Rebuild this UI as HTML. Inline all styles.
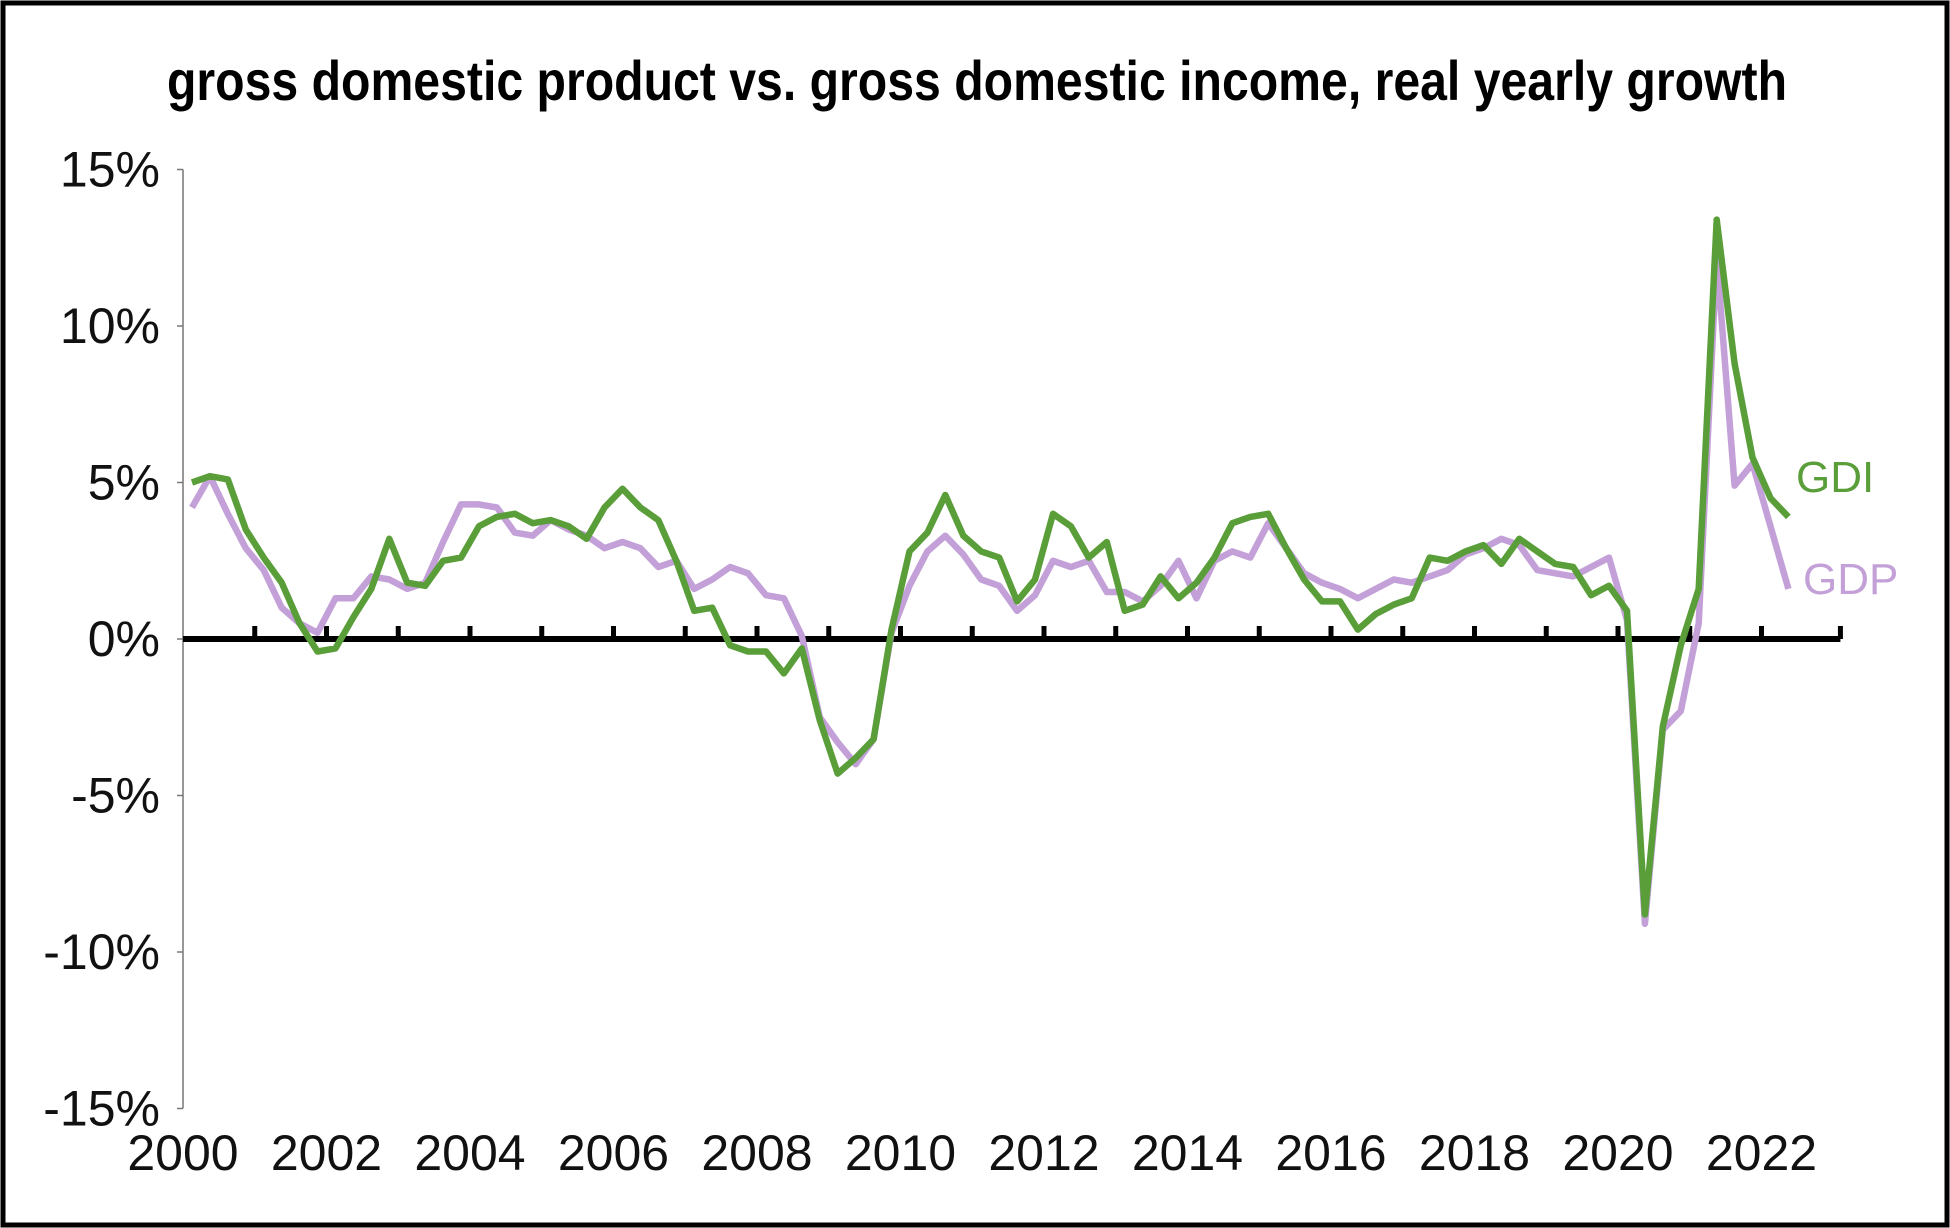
<!DOCTYPE html>
<html><head><meta charset="utf-8"><style>
html,body{margin:0;padding:0;background:#fff;}
svg{display:block;}
</style></head><body>
<svg id="chart" width="1950" height="1228" viewBox="0 0 1950 1228">
<rect x="3" y="3" width="1944" height="1222" fill="#fff" stroke="#000" stroke-width="5"/>
<text x="977" y="100" text-anchor="middle" font-family="'Liberation Sans Narrow','Liberation Sans',sans-serif" font-weight="bold" font-size="56" textLength="1620" lengthAdjust="spacingAndGlyphs" fill="#000">gross domestic product vs. gross domestic income, real yearly growth</text>
<g id="axes"></g>
<g id="series"></g>
</svg>
<script>
const years = [2000,2002,2004,2006,2008,2010,2012,2014,2016,2018,2020,2022];
const yTicks = [15,10,5,0,-5,-10,-15];
const yTickLabels = ["15%","10%","5%","0%","-5%","-10%","-15%"];
const startYear = 2000.125;
const gdi = [
5.0,5.2,5.1,3.5, 2.6,1.8,0.5,-0.4, -0.3,0.7,1.6,3.2, 1.8,1.7,2.5,2.6,
3.6,3.9,4.0,3.7, 3.8,3.6,3.2,4.2, 4.8,4.2,3.8,2.5, 0.9,1.0,-0.2,-0.4,
-0.4,-1.1,-0.3,-2.6, -4.3,-3.8,-3.2,0.3, 2.8,3.4,4.6,3.3, 2.8,2.6,1.2,1.9,
4.0,3.6,2.6,3.1, 0.9,1.1,2.0,1.3, 1.8,2.6,3.7,3.9, 4.0,2.9,1.9,1.2,
1.2,0.3,0.8,1.1, 1.3,2.6,2.5,2.8, 3.0,2.4,3.2,2.8, 2.4,2.3,1.4,1.7,
0.9,-8.8,-2.8,-0.2, 1.6,13.4,8.8,5.8, 4.5,3.9];
const gdp = [
4.2,5.2,4.0,2.9, 2.2,1.0,0.5,0.2, 1.3,1.3,2.0,1.9, 1.6,1.8,3.1,4.3,
4.3,4.2,3.4,3.3, 3.8,3.5,3.3,2.9, 3.1,2.9,2.3,2.5, 1.6,1.9,2.3,2.1,
1.4,1.3,0.1,-2.5, -3.3,-4.0,-3.2,0.2, 1.7,2.8,3.3,2.7, 1.9,1.7,0.9,1.4,
2.5,2.3,2.5,1.5, 1.5,1.2,1.7,2.5, 1.3,2.5,2.8,2.6, 3.7,2.9,2.1,1.8,
1.6,1.3,1.6,1.9, 1.8,2.0,2.2,2.7, 2.9,3.2,3.0,2.2, 2.1,2.0,2.3,2.6,
0.6,-9.1,-2.9,-2.3, 0.5,12.2,4.9,5.6, 3.6,1.6];

const NS='http://www.w3.org/2000/svg';
const xS = yr => 183 + (yr-2000)*71.75;
const yS = v => 639 - v*31.3;
const axes = document.getElementById('axes');
const series = document.getElementById('series');
function mk(tag, attrs, parent){const e=document.createElementNS(NS,tag);for(const k in attrs)e.setAttribute(k,attrs[k]);parent.appendChild(e);return e;}

let yl = mk('line',{x1:183,y1:yS(15),x2:183,y2:yS(-15),stroke:'#777','stroke-width':1.5},axes);


yTicks.forEach((t,i)=>{
  const tk=mk('line',{x1:177,y1:yS(t),x2:183,y2:yS(t),stroke:'#777','stroke-width':1.5},axes);
  
  
  const tx=mk('text',{x:160,y:yS(t)+17,'text-anchor':'end','font-family':"'Liberation Sans',sans-serif",'font-size':50,fill:'#111'},axes);
  tx.textContent=yTickLabels[i];
  
  
});
let zl = mk('line',{x1:183,y1:yS(0),x2:xS(2023.1),y2:yS(0),stroke:'#000','stroke-width':6},axes);


for(let y=2001;y<=2023;y++){
  const yr = y===2023?2023.1:y;
  const tk=mk('line',{x1:xS(yr),y1:yS(0),x2:xS(yr),y2:yS(0)-13,stroke:'#000','stroke-width':5},axes);
  
  
}
years.forEach(yr=>{
  const tx=mk('text',{x:xS(yr),y:1170,'text-anchor':'middle','font-family':"'Liberation Sans',sans-serif",'font-size':50,fill:'#111'},axes);
  tx.textContent=String(yr);
  
  
});
function line(vals,color,name){
  const pts=vals.map((v,i)=>xS(startYear+i*0.25).toFixed(1)+','+yS(v).toFixed(1)).join(' ');
  const p=mk('polyline',{points:pts,fill:'none',stroke:color,'stroke-width':6.5,'stroke-linejoin':'round'},series);
  
  
}
line(gdp,'#c3a0d8','gdp-line');
line(gdi,'#5a9e3a','gdi-line');
let l1=mk('text',{x:1796,y:492,'font-family':"'Liberation Sans',sans-serif",'font-size':44,fill:'#5a9e3a'},series);
l1.textContent='GDI';


let l2=mk('text',{x:1803,y:594,'font-family':"'Liberation Sans',sans-serif",'font-size':44,fill:'#c3a0d8'},series);
l2.textContent='GDP';


</script>
</body></html>
